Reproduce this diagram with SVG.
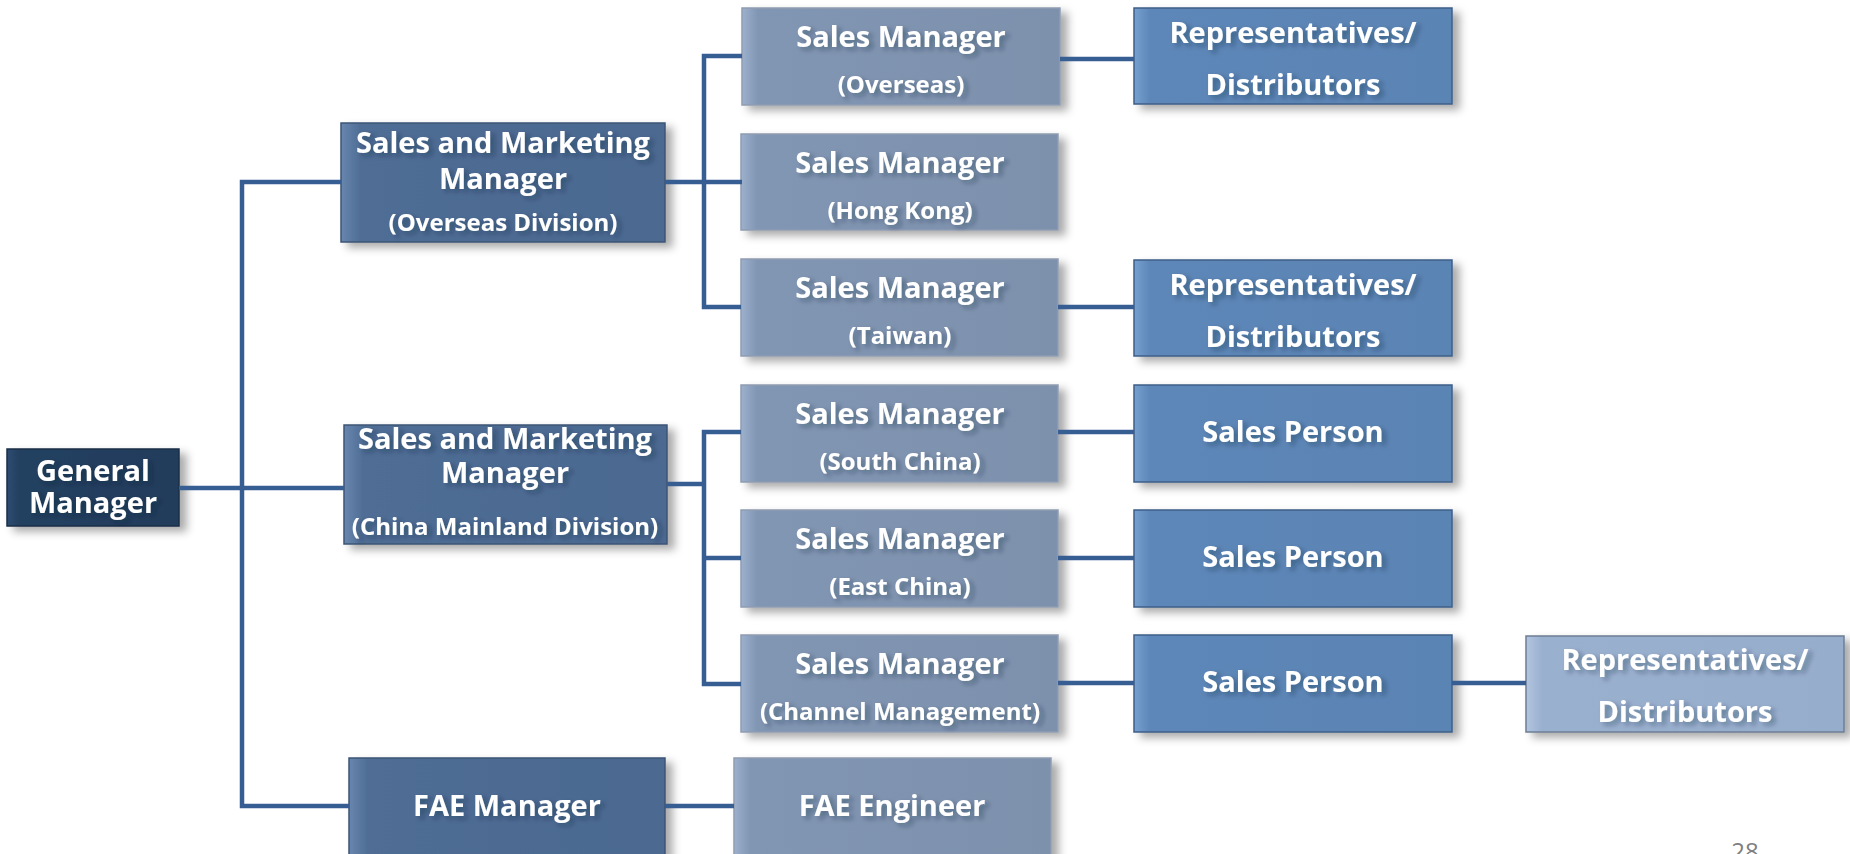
<svg xmlns="http://www.w3.org/2000/svg" width="1850" height="854" viewBox="0 0 1850 854">
<defs>
<linearGradient id="gGM" x1="0" y1="0" x2="1" y2="0"><stop offset="0" stop-color="#2E4C72"/><stop offset="0.07" stop-color="#24405F"/><stop offset="1" stop-color="#223C5C"/></linearGradient>
<linearGradient id="gSMM" x1="0" y1="0" x2="1" y2="0"><stop offset="0" stop-color="#6886AE"/><stop offset="0.06" stop-color="#4F6D95"/><stop offset="1" stop-color="#4B6991"/></linearGradient>
<linearGradient id="gSM" x1="0" y1="0" x2="1" y2="0"><stop offset="0" stop-color="#9DB1CD"/><stop offset="0.05" stop-color="#8196B3"/><stop offset="1" stop-color="#7D91AD"/></linearGradient>
<linearGradient id="gRep" x1="0" y1="0" x2="1" y2="0"><stop offset="0" stop-color="#76A0CF"/><stop offset="0.05" stop-color="#5D87B8"/><stop offset="1" stop-color="#5A84B4"/></linearGradient>
<linearGradient id="gRep3" x1="0" y1="0" x2="1" y2="0"><stop offset="0" stop-color="#B2C5E0"/><stop offset="0.05" stop-color="#9AB0CF"/><stop offset="1" stop-color="#96ADCC"/></linearGradient>
<filter id="sh" x="-10%" y="-20%" width="130%" height="160%"><feGaussianBlur in="SourceAlpha" stdDeviation="4"/><feOffset dx="7" dy="5" result="b"/><feFlood flood-color="#000" flood-opacity="0.33"/><feComposite in2="b" operator="in"/><feMerge><feMergeNode/><feMergeNode in="SourceGraphic"/></feMerge></filter>
<filter id="tsh" x="-10%" y="-30%" width="130%" height="170%"><feGaussianBlur in="SourceAlpha" stdDeviation="2.5"/><feOffset dx="4" dy="3" result="b"/><feFlood flood-color="#102030" flood-opacity="0.35"/><feComposite in2="b" operator="in"/><feMerge><feMergeNode/><feMergeNode in="SourceGraphic"/></feMerge></filter>
</defs>
<style>
.box{filter:url(#sh);stroke-width:1.5}
.gm{fill:url(#gGM);stroke:#1A2E47}
.smm{fill:url(#gSMM);stroke:#3D5575}
.sm{fill:url(#gSM);stroke:#8E9CB0}
.rep{fill:url(#gRep);stroke:#3E5E88}
.rep3{fill:url(#gRep3);stroke:#6E7E94}
text{font-family:"Open Sans","Noto Sans","DejaVu Sans",sans-serif;font-weight:700;fill:#FFFFFF;text-anchor:middle}
.t{font-size:29px}
.s{font-size:24px}
.lbl{filter:url(#tsh)}
.ln{fill:none;stroke:#375E93;stroke-width:4.5;stroke-linejoin:miter}
.pg{font-family:"Open Sans","Noto Sans",sans-serif;font-weight:400;font-size:24px;fill:#7F7F7F;filter:none}
</style>
<rect width="1850" height="854" fill="#FFFFFF"/>

<g id="general-manager">
<rect class="box gm" x="7" y="449" width="172" height="77"/>
<g class="lbl"><text class="t" x="93" y="481">General</text><text class="t" x="93" y="513">Manager</text></g>
</g>

<g id="smm-overseas">
<rect class="box smm" x="341" y="123" width="324" height="119"/>
<g class="lbl"><text class="t" x="503" y="153">Sales and Marketing</text><text class="t" x="503" y="189">Manager</text><text class="s" x="503" y="231">(Overseas Division)</text></g>
</g>

<g id="smm-china">
<rect class="box smm" x="344" y="425" width="323" height="119"/>
<g class="lbl"><text class="t" x="505" y="449">Sales and Marketing</text><text class="t" x="505" y="483">Manager</text><text class="s" x="505" y="535">(China Mainland Division)</text></g>
</g>

<g id="fae-manager">
<rect class="box smm" x="349" y="758" width="316" height="130"/>
<g class="lbl"><text class="t" x="507" y="816">FAE Manager</text></g>
</g>

<g id="sm-overseas">
<rect class="box sm" x="742" y="8" width="318" height="97"/>
<g class="lbl"><text class="t" x="901" y="47">Sales Manager</text><text class="s" x="901" y="93">(Overseas)</text></g>
</g>

<g id="sm-hongkong">
<rect class="box sm" x="741" y="134" width="317" height="96"/>
<g class="lbl"><text class="t" x="900" y="173">Sales Manager</text><text class="s" x="900" y="219">(Hong Kong)</text></g>
</g>

<g id="sm-taiwan">
<rect class="box sm" x="741" y="259" width="317" height="97"/>
<g class="lbl"><text class="t" x="900" y="298">Sales Manager</text><text class="s" x="900" y="344">(Taiwan)</text></g>
</g>

<g id="sm-southchina">
<rect class="box sm" x="741" y="385" width="317" height="97"/>
<g class="lbl"><text class="t" x="900" y="424">Sales Manager</text><text class="s" x="900" y="470">(South China)</text></g>
</g>

<g id="sm-eastchina">
<rect class="box sm" x="741" y="510" width="317" height="97"/>
<g class="lbl"><text class="t" x="900" y="549">Sales Manager</text><text class="s" x="900" y="595">(East China)</text></g>
</g>

<g id="sm-channel">
<rect class="box sm" x="741" y="635" width="317" height="97"/>
<g class="lbl"><text class="t" x="900" y="674">Sales Manager</text><text class="s" x="900" y="720">(Channel Management)</text></g>
</g>

<g id="fae-engineer">
<rect class="box sm" x="734" y="758" width="317" height="130"/>
<g class="lbl"><text class="t" x="892" y="816">FAE Engineer</text></g>
</g>

<g id="rep-overseas">
<rect class="box rep" x="1134" y="8" width="318" height="96"/>
<g class="lbl"><text class="t" x="1293" y="43">Representatives/</text><text class="t" x="1293" y="95">Distributors</text></g>
</g>

<g id="rep-taiwan">
<rect class="box rep" x="1134" y="260" width="318" height="96"/>
<g class="lbl"><text class="t" x="1293" y="295">Representatives/</text><text class="t" x="1293" y="347">Distributors</text></g>
</g>

<g id="sp-southchina">
<rect class="box rep" x="1134" y="385" width="318" height="97"/>
<g class="lbl"><text class="t" x="1293" y="442">Sales Person</text></g>
</g>

<g id="sp-eastchina">
<rect class="box rep" x="1134" y="510" width="318" height="97"/>
<g class="lbl"><text class="t" x="1293" y="567">Sales Person</text></g>
</g>

<g id="sp-channel">
<rect class="box rep" x="1134" y="635" width="318" height="97"/>
<g class="lbl"><text class="t" x="1293" y="692">Sales Person</text></g>
</g>

<g id="rep-channel">
<rect class="box rep3" x="1526" y="636" width="318" height="96"/>
<g class="lbl"><text class="t" x="1685" y="670">Representatives/</text><text class="t" x="1685" y="722">Distributors</text></g>
</g>

<g id="connectors">
<path class="ln" d="M341,182 H242 V806 H349"/>
<path class="ln" d="M179,488 H344"/>
<path class="ln" d="M665,182 H742"/>
<path class="ln" d="M742,56 H704 V307 H741"/>
<path class="ln" d="M1060,59 H1134"/>
<path class="ln" d="M1058,307 H1134"/>
<path class="ln" d="M667,484 H704"/>
<path class="ln" d="M741,432 H704 V684 H741"/>
<path class="ln" d="M704,558 H741"/>
<path class="ln" d="M1058,432 H1134"/>
<path class="ln" d="M1058,558 H1134"/>
<path class="ln" d="M1058,683 H1134"/>
<path class="ln" d="M1452,683 H1526"/>
<path class="ln" d="M665,806 H734"/>
</g>

<text class="pg" x="1745" y="860">28</text>
</svg>
